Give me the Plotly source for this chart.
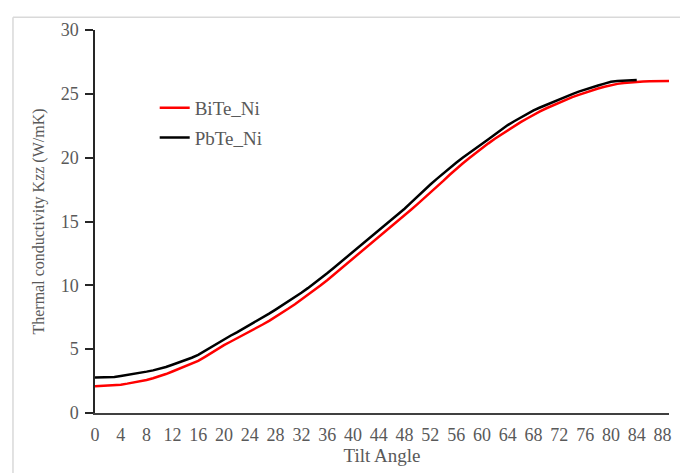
import plotly.graph_objects as go

angles_bite = list(range(0, 90))
bite_ni = [2.10, 2.12, 2.15, 2.18, 2.22, 2.30, 2.38, 2.47, 2.58, 2.72,
           2.87, 3.05, 3.25, 3.45, 3.65, 3.86, 4.08, 4.38, 4.70, 5.00,
           5.32, 5.58, 5.84, 6.10, 6.38, 6.65, 6.93, 7.22, 7.52, 7.85,
           8.18, 8.52, 8.88, 9.25, 9.62, 10.00, 10.40, 10.82, 11.24, 11.66,
           12.08, 12.50, 12.92, 13.33, 13.75, 14.18, 14.62, 15.05, 15.48, 15.92,
           16.36, 16.80, 17.25, 17.72, 18.18, 18.66, 19.12, 19.54, 19.96, 20.36,
           20.76, 21.12, 21.48, 21.82, 22.16, 22.47, 22.78, 23.07, 23.36, 23.62,
           23.87, 24.10, 24.33, 24.54, 24.74, 24.92, 25.10, 25.26, 25.42, 25.56,
           25.68, 25.78, 25.85, 25.90, 25.94, 25.97, 25.99, 26.00, 26.00, 26.01]

angles_pbte = list(range(0, 85))
pbte_ni = [2.78, 2.78, 2.79, 2.82, 2.90, 2.97, 3.05, 3.14, 3.24, 3.34,
           3.45, 3.60, 3.78, 3.95, 4.13, 4.33, 4.55, 4.86, 5.15, 5.45,
           5.80, 6.05, 6.32, 6.60, 6.88, 7.16, 7.47, 7.78, 8.10, 8.42,
           8.75, 9.08, 9.42, 9.78, 10.15, 10.53, 10.94, 11.36, 11.78, 12.18,
           12.60, 13.02, 13.43, 13.84, 14.25, 14.68, 15.12, 15.55, 16.00, 16.48,
           16.98, 17.45, 17.90, 18.34, 18.78, 19.20, 19.60, 20.00, 20.38, 20.74,
           21.09, 21.45, 21.82, 22.20, 22.55, 22.85, 23.14, 23.42, 23.70, 23.93,
           24.15, 24.37, 24.58, 24.78, 24.98, 25.17, 25.35, 25.50, 25.65, 25.80,
           25.94, 26.00, 26.04, 26.06, 26.08]

x_ticks = list(range(0, 89, 4))
y_ticks = [0, 5, 10, 15, 20, 25, 30]

FONT = "Liberation Serif"
GRAY = "#595959"

fig = go.Figure()
fig.add_trace(go.Scatter(x=angles_bite, y=bite_ni, mode="lines", name="BiTe_Ni",
                         line=dict(color="#FF0000", width=2.5), legendgroup="a"))
fig.add_trace(go.Scatter(x=angles_pbte, y=pbte_ni, mode="lines", name="PbTe_Ni",
                         line=dict(color="#000000", width=2.5), legendgroup="b"))

# page body has an 8px margin, so the figure is offset by 8px on the left/top
fig.update_layout(
    width=680, height=465,
    margin=dict(l=87, r=19, t=13, b=60),
    paper_bgcolor="white", plot_bgcolor="white",
    font=dict(family=FONT, size=18, color=GRAY),
    showlegend=True,
    legend=dict(x=0.104, y=0.846, xanchor="left", yanchor="top",
                font=dict(family=FONT, size=19, color=GRAY),
                bgcolor="rgba(0,0,0,0)", tracegroupgap=2, itemwidth=30),
    xaxis=dict(range=[0, 89], tickmode="array", tickvals=x_ticks,
               ticktext=[str(v) for v in x_ticks], showgrid=False, zeroline=False,
               showline=True, linecolor="#404040", linewidth=2, ticks="",
               ticklabelstandoff=4,
               tickfont=dict(family=FONT, size=18, color=GRAY),
               title=dict(text="Tilt Angle", font=dict(family=FONT, size=19, color=GRAY),
                          standoff=2)),
    yaxis=dict(range=[0, 30], tickmode="array", tickvals=y_ticks, showgrid=False,
               zeroline=False, showline=True, linecolor="#262626", linewidth=1.5,
               ticks="outside", ticklen=8, tickcolor="#262626", tickwidth=1.5,
               ticklabelstandoff=3,
               tickfont=dict(family=FONT, size=18, color=GRAY),
               title=dict(text="Thermal conductivity Kzz (W/mK)",
                          font=dict(family=FONT, size=16, color=GRAY), standoff=12)),
    shapes=[
        dict(type="line", xref="paper", yref="paper", x0=-0.1429, x1=1.026,
             y0=1.0332, y1=1.0332, line=dict(color="#D9D9D9", width=1.5)),
        dict(type="line", xref="paper", yref="paper", x0=-0.1429, x1=-0.1429,
             y0=1.0332, y1=-0.3, line=dict(color="#D9D9D9", width=1.5)),
    ],
)

fig.write_html("out.html")
